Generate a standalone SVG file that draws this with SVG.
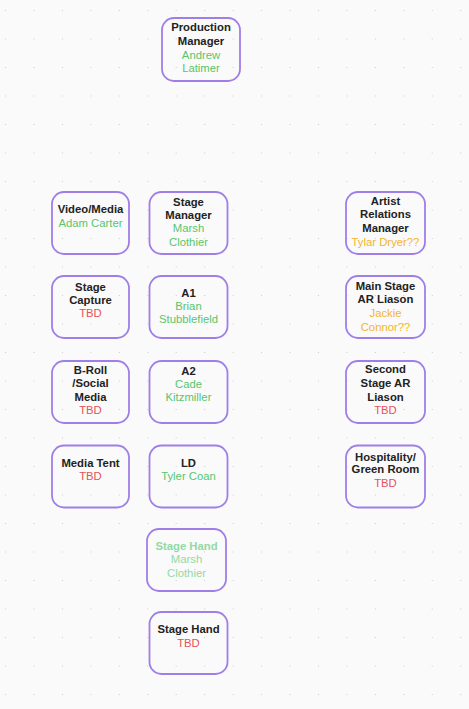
<svg xmlns="http://www.w3.org/2000/svg" width="469" height="709" viewBox="0 0 469 709">
<defs>
<pattern id="dots" x="5" y="10" width="28.45" height="28.5" patternUnits="userSpaceOnUse">
<rect x="-0.9" y="-0.9" width="1.8" height="1.8" fill="#c2c2c2"/>
</pattern>
<style>
.box{fill:#ffffff;fill-opacity:0;stroke:#a07ee8;stroke-width:1.8}
text{font-family:"Liberation Sans",Arial,sans-serif;font-size:11.3px;text-anchor:middle}
.t{font-weight:bold;fill:#222222}
.g{fill:#57c66d}
.r{fill:#e5525a}
.o{fill:#f3b52e}
.f{fill:#93d9a3}
.fb{fill:#93d9a3;font-weight:bold}
</style>
</defs>
<rect width="469" height="709" fill="#fafafa"/>
<rect width="469" height="709" fill="url(#dots)"/>
<g id="connectors"></g>
<g id="production-manager">
<rect class="box" x="162" y="18" width="78" height="63" rx="12"/>
<text class="t" x="201" y="31.3">Production</text>
<text class="t" x="201" y="45">Manager</text>
<text class="g" x="201" y="59">Andrew</text>
<text class="g" x="201" y="72.3">Latimer</text>
</g>
<g id="video-media">
<rect class="box" x="52" y="192" width="77" height="62" rx="12"/>
<text class="t" x="90.5" y="213">Video/Media</text>
<text class="g" x="90.5" y="226.7">Adam Carter</text>
</g>
<g id="stage-manager">
<rect class="box" x="149.5" y="192" width="78" height="62" rx="12"/>
<text class="t" x="188.5" y="205.7">Stage</text>
<text class="t" x="188.5" y="219">Manager</text>
<text class="g" x="188.5" y="232.3">Marsh</text>
<text class="g" x="188.5" y="245.7">Clothier</text>
</g>
<g id="artist-relations-manager">
<rect class="box" x="346" y="192" width="79" height="62" rx="12"/>
<text class="t" x="385.5" y="204.7">Artist</text>
<text class="t" x="385.5" y="218">Relations</text>
<text class="t" x="385.5" y="232.3">Manager</text>
<text class="o" x="385.5" y="245.7">Tylar Dryer??</text>
</g>
<g id="stage-capture">
<rect class="box" x="52" y="276" width="77" height="62" rx="12"/>
<text class="t" x="90.5" y="291.3">Stage</text>
<text class="t" x="90.5" y="304">Capture</text>
<text class="r" x="90.5" y="317.3">TBD</text>
</g>
<g id="a1">
<rect class="box" x="149.5" y="276" width="78" height="62" rx="12"/>
<text class="t" x="188.5" y="296.7">A1</text>
<text class="g" x="188.5" y="310">Brian</text>
<text class="g" x="188.5" y="323.3">Stubblefield</text>
</g>
<g id="main-stage-ar-liason">
<rect class="box" x="346" y="276" width="79" height="62" rx="12"/>
<text class="t" x="385.5" y="290">Main Stage</text>
<text class="t" x="385.5" y="303.3">AR Liason</text>
<text class="o" x="385.5" y="317.3">Jackie</text>
<text class="o" x="385.5" y="330.7">Connor??</text>
</g>
<g id="b-roll-social-media">
<rect class="box" x="52" y="361" width="77" height="62" rx="12"/>
<text class="t" x="90.5" y="374">B-Roll</text>
<text class="t" x="90.5" y="387.3">/Social</text>
<text class="t" x="90.5" y="400.7">Media</text>
<text class="r" x="90.5" y="414">TBD</text>
</g>
<g id="a2">
<rect class="box" x="149.5" y="361" width="78" height="62" rx="12"/>
<text class="t" x="188.5" y="374.7">A2</text>
<text class="g" x="188.5" y="388">Cade</text>
<text class="g" x="188.5" y="401.3">Kitzmiller</text>
</g>
<g id="second-stage-ar-liason">
<rect class="box" x="346" y="361" width="79" height="62" rx="12"/>
<text class="t" x="385.5" y="373.3">Second</text>
<text class="t" x="385.5" y="387.3">Stage AR</text>
<text class="t" x="385.5" y="400.7">Liason</text>
<text class="r" x="385.5" y="414">TBD</text>
</g>
<g id="media-tent">
<rect class="box" x="52" y="445.5" width="77" height="62" rx="12"/>
<text class="t" x="90.5" y="466.7">Media Tent</text>
<text class="r" x="90.5" y="480">TBD</text>
</g>
<g id="ld">
<rect class="box" x="149.5" y="445.5" width="78" height="62" rx="12"/>
<text class="t" x="188.5" y="466.7">LD</text>
<text class="g" x="188.5" y="480">Tyler Coan</text>
</g>
<g id="hospitality-green-room">
<rect class="box" x="346" y="445.5" width="79" height="62" rx="12"/>
<text class="t" x="385.5" y="460.7">Hospitality/</text>
<text class="t" x="385.5" y="473.3">Green Room</text>
<text class="r" x="385.5" y="487.3">TBD</text>
</g>
<g id="stage-hand-marsh">
<rect class="box" x="147" y="529" width="79" height="62" rx="12"/>
<text class="fb" x="186.5" y="549.7">Stage Hand</text>
<text class="f" x="186.5" y="563.3">Marsh</text>
<text class="f" x="186.5" y="576.7">Clothier</text>
</g>
<g id="stage-hand-tbd">
<rect class="box" x="149.5" y="612" width="78" height="62" rx="12"/>
<text class="t" x="188.5" y="633.3">Stage Hand</text>
<text class="r" x="188.5" y="646.7">TBD</text>
</g>
</svg>
